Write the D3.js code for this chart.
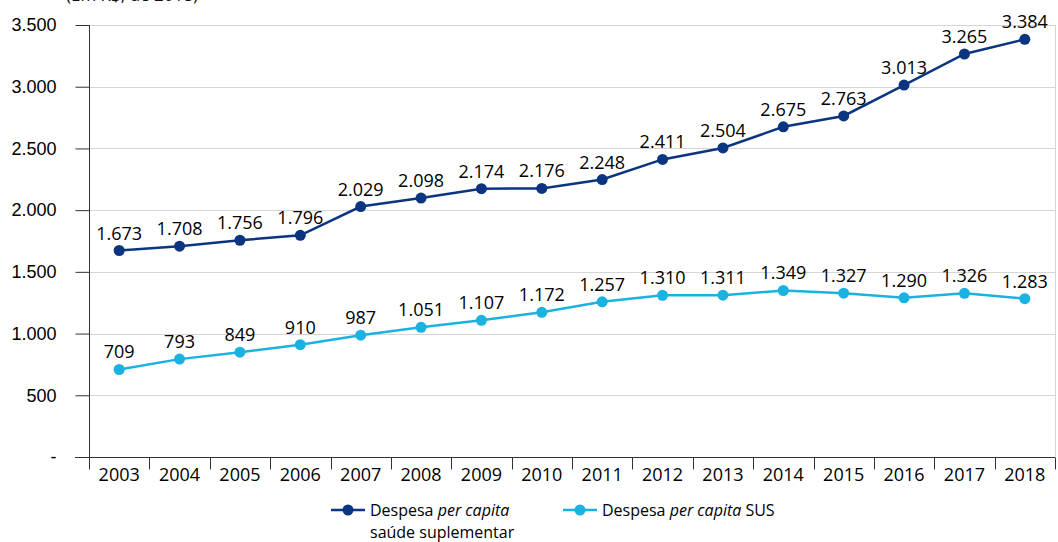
<!DOCTYPE html>
<html>
<head>
<meta charset="utf-8">
<script src="https://cdn.jsdelivr.net/npm/d3@7"></script>
<style>
  body { margin: 0; background: #fff; }
  svg { display: block; font-family: "Open Sans", "Noto Sans", sans-serif; }
</style>
</head>
<body>
<div id="chart"></div>
<script>
// data
const years = ["2003", "2004", "2005", "2006", "2007", "2008", "2009", "2010",
  "2011", "2012", "2013", "2014", "2015", "2016", "2017", "2018"];
const suplementar = [1673, 1708, 1756, 1796, 2029, 2098, 2174, 2176,
  2248, 2411, 2504, 2675, 2763, 3013, 3265, 3384];
const sus = [709, 793, 849, 910, 987, 1051, 1107, 1172,
  1257, 1310, 1311, 1349, 1327, 1290, 1326, 1283];
const yTicks = [0, 500, 1000, 1500, 2000, 2500, 3000, 3500];
const seriesNames = [["Despesa ", "per capita", ""], ["Despesa ", "per capita", " SUS"]];

const width = 1058, height = 542;
const margin = {top: 25, right: 3, bottom: 85, left: 89};
const darkBlue = "#0b3580", lightBlue = "#1ab2e0";

const fmt = v => v === 0 ? "-" : d3.format(",")(v).replace(/,/g, ".");

const svg = d3.select("#chart").append("svg")
  .attr("width", width)
  .attr("height", height);

const x = d3.scaleBand()
  .domain(years)
  .range([margin.left, width - margin.right]);

const y = d3.scaleLinear()
  .domain([0, 3500])
  .range([height - margin.bottom, margin.top]);

// unit note, cut off at the top as in the source
svg.append("text")
  .attr("x", 66)
  .attr("y", 1)
  .style("font-size", "17px")
  .attr("fill", "#111")
  .text("(Em R$, de 2018)");

// grid
svg.append("g")
  .selectAll("line")
  .data(yTicks.filter(d => d > 0))
  .enter().append("line")
    .attr("x1", margin.left)
    .attr("x2", width - margin.right)
    .attr("y1", d => Math.round(y(d)) + 0.5)
    .attr("y2", d => Math.round(y(d)) + 0.5)
    .attr("stroke", "#d6d6d6");

svg.append("line")
  .attr("x1", width - margin.right + 0.5)
  .attr("x2", width - margin.right + 0.5)
  .attr("y1", y(3500))
  .attr("y2", y(0))
  .attr("stroke", "#d6d6d6");

// y axis
svg.append("g")
  .attr("transform", `translate(${margin.left + 0.5},0)`)
  .call(d3.axisLeft(y).tickValues(yTicks).tickFormat(fmt).tickSize(14).tickPadding(19))
  .call(g => g.select(".domain").attr("stroke", "#333").attr("d", `M0,${y(3500)}V${y(0)}`))
  .call(g => g.selectAll(".tick line").attr("stroke", "#333"))
  .call(g => g.selectAll(".tick text").style("font-size", "18px").attr("fill", "#000"));

// x axis
const xAxis = svg.append("g")
  .attr("transform", `translate(0,${Math.round(y(0)) + 0.5})`);
xAxis.append("line")
  .attr("x1", margin.left - 14)
  .attr("x2", width - margin.right)
  .attr("stroke", "#333");
xAxis.selectAll(".sep")
  .data(years.concat(["end"]))
  .enter().append("line")
    .attr("class", "sep")
    .attr("x1", (d, i) => Math.round(margin.left + i * x.bandwidth()) + 0.5)
    .attr("x2", (d, i) => Math.round(margin.left + i * x.bandwidth()) + 0.5)
    .attr("y1", 0)
    .attr("y2", 12)
    .attr("stroke", "#333");
xAxis.selectAll(".lab")
  .data(years)
  .enter().append("text")
    .attr("class", "lab")
    .attr("x", d => x(d) + x.bandwidth() / 2)
    .attr("y", 23)
    .attr("text-anchor", "middle")
    .style("font-size", "18px")
    .attr("fill", "#000")
    .text(d => d);

// lines
const cx = (d, i) => x(years[i]) + x.bandwidth() / 2;
const line = d3.line().x(cx).y(d => y(d));

[[suplementar, darkBlue], [sus, lightBlue]].forEach(([values, color]) => {
  const g = svg.append("g");
  g.append("path")
    .datum(values)
    .attr("d", line)
    .attr("fill", "none")
    .attr("stroke", color)
    .attr("stroke-width", 2.5);
  g.selectAll("circle")
    .data(values)
    .enter().append("circle")
      .attr("cx", cx)
      .attr("cy", d => y(d))
      .attr("r", 5.5)
      .attr("fill", color);
  g.selectAll("text")
    .data(values)
    .enter().append("text")
      .attr("x", cx)
      .attr("y", d => y(d) - 11)
      .attr("text-anchor", "middle")
      .style("font-size", "18px")
      .attr("fill", "#000")
      .text(fmt);
});

// legend
const legend = svg.append("g").style("font-size", "16px");
const items = [
  {x: 331, color: darkBlue, name: seriesNames[0], extra: "saúde suplementar"},
  {x: 563, color: lightBlue, name: seriesNames[1], extra: null}
];
items.forEach(it => {
  const g = legend.append("g").attr("transform", `translate(${it.x},510)`);
  g.append("line").attr("x1", 0).attr("x2", 34).attr("stroke", it.color).attr("stroke-width", 2.5);
  g.append("circle").attr("cx", 17).attr("r", 5.5).attr("fill", it.color);
  const t = g.append("text").attr("x", 39).attr("y", 6).attr("fill", "#000");
  t.append("tspan").text(it.name[0]);
  t.append("tspan").style("font-style", "italic").text(it.name[1]);
  t.append("tspan").text(it.name[2]);
  if (it.extra) {
    g.append("text").attr("x", 39).attr("y", 28).attr("fill", "#000").text(it.extra);
  }
});
</script>
</body>
</html>
